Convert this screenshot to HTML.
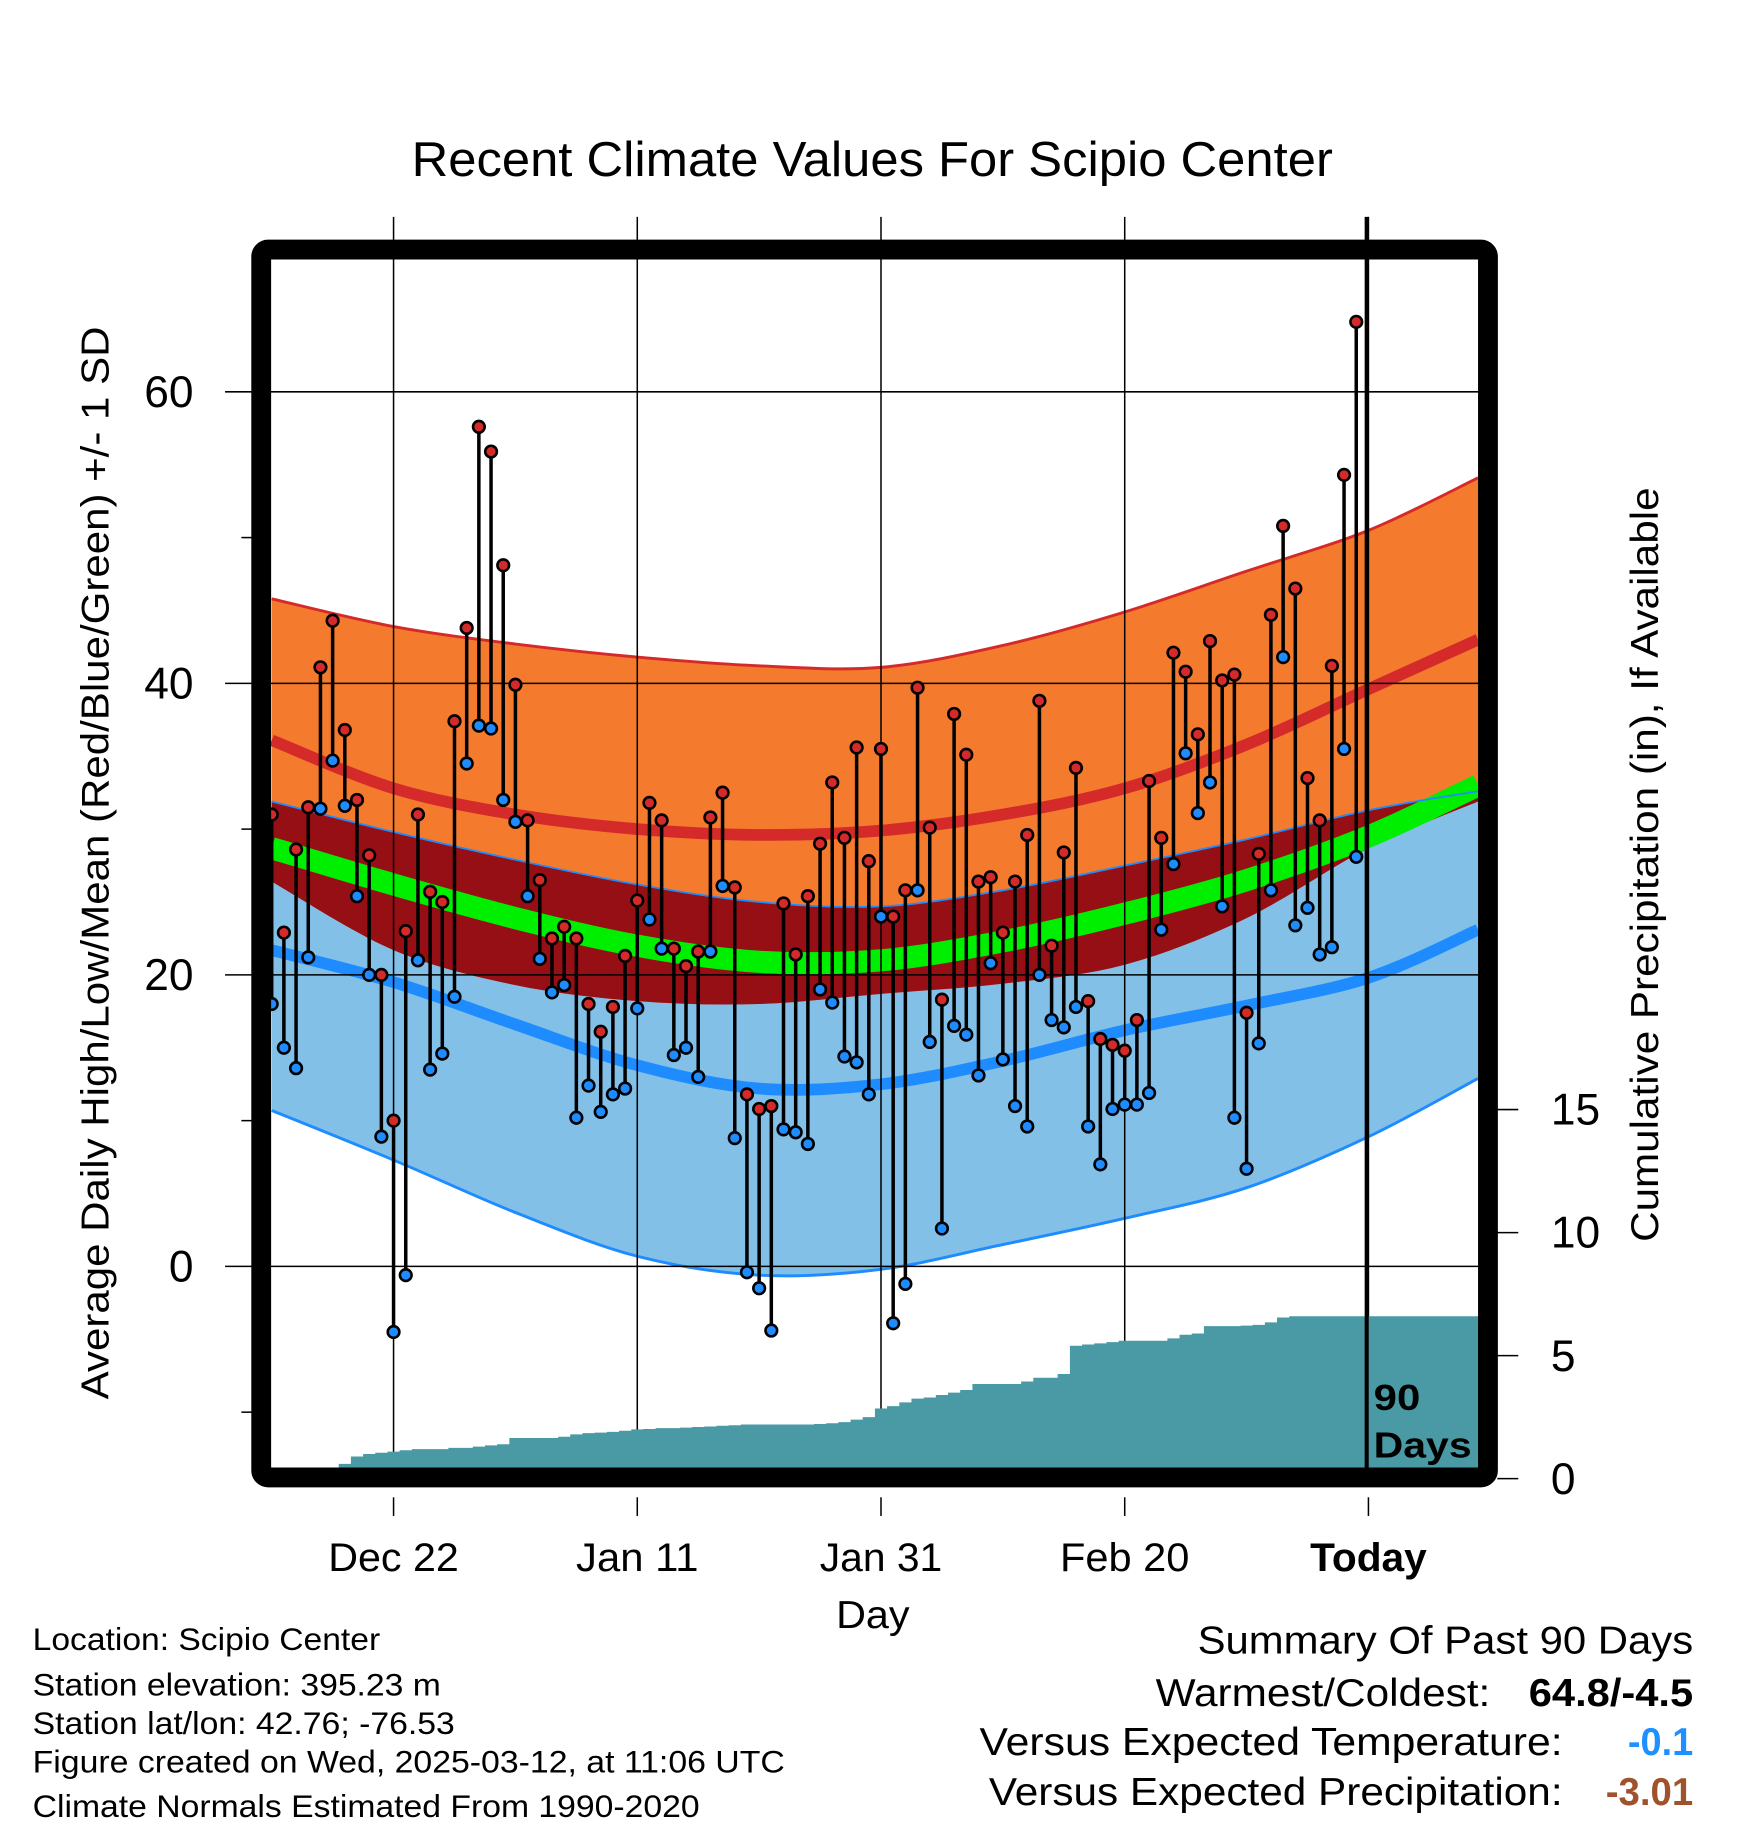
<!DOCTYPE html>
<html><head><meta charset="utf-8"><title>Recent Climate Values For Scipio Center</title>
<style>html,body{margin:0;padding:0;background:#fff}svg{display:block}text{font-family:"Liberation Sans",Arial,sans-serif}</style>
</head><body>
<svg id="chart" xmlns="http://www.w3.org/2000/svg" width="1748" height="1828" viewBox="0 0 1499 1567.6" preserveAspectRatio="none">
<defs><clipPath id="plotclip"><rect x="232" y="222" width="1036" height="1037"/></clipPath></defs>
<text x="353" y="151" font-size="42" textLength="790" lengthAdjust="spacingAndGlyphs">Recent Climate Values For Scipio Center</text>
<g id="bands" clip-path="url(#plotclip)"></g>
<g id="grid"></g>
<g id="precip" clip-path="url(#plotclip)"></g>
<g id="temps"></g>
<rect x="224" y="214" width="1052" height="1053" rx="6" fill="none" stroke="#000" stroke-width="17"/>
<line x1="1172" y1="186" x2="1172" y2="1259" stroke="#000" stroke-width="3.5"/>
<text x="1178" y="1209" font-size="31" font-weight="bold" textLength="40" lengthAdjust="spacingAndGlyphs">90</text>
<text x="1178" y="1250" font-size="31" font-weight="bold" textLength="84" lengthAdjust="spacingAndGlyphs">Days</text>
<g id="axes"></g>
<text transform="translate(93,1200) rotate(-90)" font-size="33" textLength="920" lengthAdjust="spacingAndGlyphs">Average Daily High/Low/Mean (Red/Blue/Green) +/- 1 SD</text>
<text transform="translate(1422,1065) rotate(-90)" font-size="33" textLength="647" lengthAdjust="spacingAndGlyphs">Cumulative Precipitation (in), If Available</text>
<text x="717" y="1396" font-size="33" textLength="63" lengthAdjust="spacingAndGlyphs">Day</text>
<g font-size="27">
<text x="28" y="1415" textLength="298" lengthAdjust="spacingAndGlyphs">Location: Scipio Center</text>
<text x="28" y="1454" textLength="350" lengthAdjust="spacingAndGlyphs">Station elevation: 395.23 m</text>
<text x="28" y="1487" textLength="362" lengthAdjust="spacingAndGlyphs">Station lat/lon: 42.76; -76.53</text>
<text x="28" y="1520" textLength="645" lengthAdjust="spacingAndGlyphs">Figure created on Wed, 2025-03-12, at 11:06 UTC</text>
<text x="28" y="1558" textLength="572" lengthAdjust="spacingAndGlyphs">Climate Normals Estimated From 1990-2020</text>
</g>
<g font-size="33">
<text x="1027" y="1418" textLength="425" lengthAdjust="spacingAndGlyphs">Summary Of Past 90 Days</text>
<text x="991" y="1463" textLength="287" lengthAdjust="spacingAndGlyphs">Warmest/Coldest:</text>
<text x="1311" y="1463" font-weight="bold" textLength="141" lengthAdjust="spacingAndGlyphs">64.8/-4.5</text>
<text x="840" y="1505" textLength="500" lengthAdjust="spacingAndGlyphs">Versus Expected Temperature:</text>
<text x="1396" y="1505" font-weight="bold" fill="#1e90ff" textLength="56" lengthAdjust="spacingAndGlyphs">-0.1</text>
<text x="848" y="1548" textLength="492" lengthAdjust="spacingAndGlyphs">Versus Expected Precipitation:</text>
<text x="1377" y="1548" font-weight="bold" fill="#a0522d" textLength="75" lengthAdjust="spacingAndGlyphs">-3.01</text>
</g>
</svg>
<script>
// knots (days since Dec 12) for climate normals
const normalDays = [0,10,20,30,40,50,60,70,80,90,99];
const highMean = [36.1,32.8,31.0,30.0,29.6,29.9,31.0,32.8,35.8,39.6,43.0];
const highTop  = [45.8,43.9,42.7,41.8,41.2,41.1,42.6,44.9,47.7,50.5,54.1];
const highBot  = [26.4,21.7,19.3,18.2,18.0,18.7,19.4,20.7,23.9,28.7,31.9];
const lowMean  = [21.7,19.5,16.6,13.8,12.2,12.5,14.1,16.2,17.9,19.8,23.1];
const lowTop   = [31.9,29.8,27.9,26.2,25.0,24.7,25.8,27.5,29.3,31.3,32.6];
const lowBot   = [10.7,7.3,3.7,0.7,-0.6,-0.2,1.5,3.3,5.4,8.9,12.9];
const meanNorm = [28.7,26.2,23.9,22.0,20.9,21.0,22.3,24.2,26.5,29.5,33.0];
// daily observations Dec 12 .. Mar 11
const highs = [31.0,22.9,28.6,31.5,41.1,44.3,36.8,32.0,28.2,20.0,10.0,23.0,31.0,25.7,25.0,37.4,43.8,57.6,55.9,48.1,39.9,30.6,26.5,22.5,23.3,22.5,18.0,16.1,17.8,21.3,25.1,31.8,30.6,21.8,20.6,21.6,30.8,32.5,26.0,11.8,10.8,11.0,24.9,21.4,25.4,29.0,33.2,29.4,35.6,27.8,35.5,24.0,25.8,39.7,30.1,18.3,37.9,35.1,26.4,26.7,22.9,26.4,29.6,38.8,22.0,28.4,34.2,18.2,15.6,15.2,14.8,16.9,33.3,29.4,42.1,40.8,36.5,42.9,40.2,40.6,17.4,28.3,44.7,50.8,46.5,33.5,30.6,41.2,54.3,64.8];
const lows = [18.0,15.0,13.6,21.2,31.4,34.7,31.6,25.4,20.0,8.9,-4.5,-0.6,21.0,13.5,14.6,18.5,34.5,37.1,36.9,32.0,30.5,25.4,21.1,18.8,19.3,10.2,12.4,10.6,11.8,12.2,17.7,23.8,21.8,14.5,15.0,13.0,21.6,26.1,8.8,-0.4,-1.5,-4.4,9.4,9.2,8.4,19.0,18.1,14.4,14.0,11.8,24.0,-3.9,-1.2,25.8,15.4,2.6,16.5,15.9,13.1,20.8,14.2,11.0,9.6,20.0,16.9,16.4,17.8,9.6,7.0,10.8,11.1,11.1,11.9,23.1,27.6,35.2,31.1,33.2,24.7,10.2,6.7,15.3,25.8,41.8,23.4,24.6,21.4,21.9,35.5,28.1];
const precipCum = [0,0,0,0,0,0.1,0.6,0.9,1.0,1.05,1.1,1.15,1.2,1.2,1.2,1.25,1.25,1.3,1.35,1.4,1.65,1.65,1.65,1.65,1.7,1.8,1.85,1.87,1.9,1.95,2.0,2.02,2.05,2.05,2.07,2.1,2.12,2.15,2.17,2.2,2.2,2.2,2.2,2.2,2.2,2.22,2.25,2.3,2.4,2.5,2.85,2.95,3.1,3.25,3.3,3.4,3.5,3.6,3.85,3.85,3.85,3.85,3.95,4.1,4.1,4.25,5.4,5.45,5.5,5.55,5.6,5.6,5.6,5.6,5.7,5.85,5.9,6.2,6.2,6.2,6.22,6.25,6.35,6.55,6.6,6.6,6.6,6.6,6.6,6.6];
const tempTicks = [0,20,40,60];
const tempMinorTicks = [-10,10,30,50];
const precipTicks = [0,5,10,15];
const xTickDays = [10,30,50,70,90];
const xTickLabels = ['Dec 22','Jan 11','Jan 31','Feb 20','Today'];
const xTickWidths = [112,105,105,111,100];

const NS='http://www.w3.org/2000/svg';
const X = d => 233 + 10.45*d;
const Y = v => 1086 - 12.5*v;
const P = p => 1268 - 21.1*p;
const PL=232, PR=1268, PT=222, PB=1259;
function mk(tag, attrs, parent){const e=document.createElementNS(NS,tag);for(const k in attrs)e.setAttribute(k,attrs[k]);parent.appendChild(e);return e;}
function pts(vals){return normalDays.map((d,i)=>[Math.min(Math.max(X(d),PL-2),PR+2),Y(vals[i])]);}
function curve(p, move){let s=(move?'M':'L')+p[0][0].toFixed(1)+','+p[0][1].toFixed(1);
 for(let i=0;i<p.length-1;i++){const p0=p[i-1]||p[i],p1=p[i],p2=p[i+1],p3=p[i+2]||p2;
  s+=' C'+(p1[0]+(p2[0]-p0[0])/6).toFixed(1)+','+(p1[1]+(p2[1]-p0[1])/6).toFixed(1)+' '+(p2[0]-(p3[0]-p1[0])/6).toFixed(1)+','+(p2[1]-(p3[1]-p1[1])/6).toFixed(1)+' '+p2[0].toFixed(1)+','+p2[1].toFixed(1);}
 return s;}
function band(top,bot){return curve(pts(top),true)+' '+curve(pts(bot).reverse(),false)+' Z';}

const bands=document.getElementById('bands');
let e;
e=mk('path',{d:band(lowTop,lowBot),fill:'#82c0e8'},bands);


e=mk('path',{d:band(highTop,highBot),fill:'#f47a2e'},bands);


e=mk('path',{d:band(lowTop,highBot),fill:'#950f14'},bands);


e=mk('path',{d:curve(pts(meanNorm),true),fill:'none',stroke:'#00ee00','stroke-width':19},bands);


e=mk('path',{d:curve(pts(highMean),true),fill:'none',stroke:'#d42a2a','stroke-width':10},bands);


e=mk('path',{d:curve(pts(lowMean),true),fill:'none',stroke:'#1e8cff','stroke-width':10},bands);


e=mk('path',{d:curve(pts(highTop),true),fill:'none',stroke:'#d42a2a','stroke-width':2.5},bands);


e=mk('path',{d:curve(pts(lowTop),true),fill:'none',stroke:'#1e8cff','stroke-width':1.5},bands);


e=mk('path',{d:curve(pts(lowBot),true),fill:'none',stroke:'#1e8cff','stroke-width':2.5},bands);



const grid=document.getElementById('grid');
tempTicks.forEach(v=>{const l=mk('line',{x1:193,x2:PR,y1:Y(v),y2:Y(v),stroke:'#000','stroke-width':1.3},grid);
 
 });
xTickDays.forEach(d=>{const l=mk('line',{x1:X(d),x2:X(d),y1:186,y2:PB,stroke:'#000','stroke-width':1.3},grid);
 
 });

const precip=document.getElementById('precip');
let pd='M'+PL+','+PB;
precipCum.forEach((p,i)=>{const x0=i===0?PL:X(i-0.5);pd+=' L'+x0.toFixed(1)+','+P(p).toFixed(1)+' L'+X(i+0.5).toFixed(1)+','+P(p).toFixed(1);});
pd+=' L'+PR+','+P(precipCum[precipCum.length-1]).toFixed(1)+' L'+PR+','+PB+' Z';
e=mk('path',{d:pd,fill:'#4a9aa5'},precip);



const temps=document.getElementById('temps');
highs.forEach((h,i)=>{const x=X(i);
 const l=mk('line',{x1:x,x2:x,y1:Y(h),y2:Y(lows[i]),stroke:'#000','stroke-width':3},temps);
 
 });
highs.forEach((h,i)=>{const x=X(i);
 const lo=mk('circle',{cx:x,cy:Y(lows[i]),r:5,fill:'#1e8cff',stroke:'#000','stroke-width':2.2},temps);
 
 
 const hi=mk('circle',{cx:x,cy:Y(h),r:5,fill:'#d42a2a',stroke:'#000','stroke-width':2.2},temps);
 
 });

const axes=document.getElementById('axes');
tempTicks.forEach(v=>{const t=mk('text',{x:166,y:Y(v)+13,'font-size':38,'text-anchor':'end'},axes);t.textContent=v;
 
 });
tempMinorTicks.forEach(v=>{const l=mk('line',{x1:207,x2:216,y1:Y(v),y2:Y(v),stroke:'#000','stroke-width':1.3},axes);
 
 });
precipTicks.forEach(p=>{const l=mk('line',{x1:1284,x2:1302,y1:P(p),y2:P(p),stroke:'#000','stroke-width':1.3},axes);
 
 
 const t=mk('text',{x:1330,y:P(p)+13,'font-size':38},axes);t.textContent=p;
 
 });
xTickDays.forEach((d,i)=>{const l=mk('line',{x1:X(d),x2:X(d),y1:1284,y2:1300,stroke:'#000','stroke-width':1.3},axes);
 
 
 const w=xTickWidths[i];
 const t=mk('text',{x:X(d)-w/2,y:1347,'font-size':34,textLength:w,lengthAdjust:'spacingAndGlyphs'},axes);t.textContent=xTickLabels[i];
 if(xTickLabels[i]==='Today')t.setAttribute('font-weight','bold');
 
 });
</script>
</body></html>
